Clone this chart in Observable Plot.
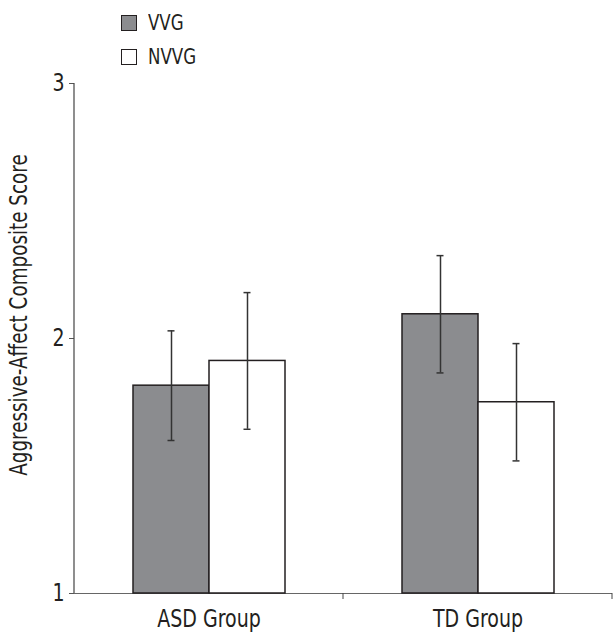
<!DOCTYPE html>
<html>
<head>
<meta charset="utf-8">
<script src="https://cdn.jsdelivr.net/npm/d3@7"></script>
<script src="https://cdn.jsdelivr.net/npm/@observablehq/plot@0.6"></script>
<style>
  html, body { margin: 0; padding: 0; background: #fff; }
  #wrap { position: relative; width: 613px; height: 633px; font-family: "Liberation Sans Narrow", "DejaVu Sans Condensed", "Liberation Sans", sans-serif; color: #231f20; }
  #legend { position: absolute; left: 121px; top: 6px; font-size: 21px; }
  .item { display: flex; align-items: center; height: 34px; }
  .sw { width: 14px; height: 14px; border: 1px solid #231f20; margin-right: 11px; box-sizing: content-box; flex: none; }
  .lab { display: inline-block; transform: scaleX(0.88); transform-origin: left center; }
  svg { display: block; }
</style>
</head>
<body>
<div id="wrap">
  <div id="chart"></div>
  <div id="legend"></div>
</div>
<script>
// Data
const groups = ["ASD Group", "TD Group"];
const conditions = ["VVG", "NVVG"];
const vvgMeans = [1.815, 2.095];
const nvvgMeans = [1.912, 1.75];
const vvgErrors = [0.215, 0.23];
const nvvgErrors = [0.268, 0.23];
const yTicks = [1, 2, 3];
const yLabel = "Aggressive-Affect Composite Score";
const colors = ["#8b8c8f", "#ffffff"];

const data = [];
groups.forEach((g, i) => {
  data.push({group: g, cond: "VVG", mean: vvgMeans[i], err: vvgErrors[i]});
  data.push({group: g, cond: "NVVG", mean: nvvgMeans[i], err: nvvgErrors[i]});
});

const ink = "#231f20";
const font = '"Liberation Sans Narrow", "DejaVu Sans Condensed", "Liberation Sans", sans-serif';

const plot = Plot.plot({
  width: 613,
  height: 633,
  marginTop: 83,
  marginBottom: 40,
  marginLeft: 73,
  marginRight: 1,
  style: {fontFamily: font, color: ink, background: "#fff"},
  y: {domain: [1, 3]},
  fx: {domain: groups, padding: 0, label: null},
  x: {domain: conditions, paddingInner: 0, paddingOuter: 0.753, axis: null},
  color: {domain: conditions, range: colors},
  marks: [
    Plot.axisY({ticks: yTicks, tickFormat: "d", tickSize: 5, tickPadding: 5, fontSize: 24, stroke: "#555", label: null}),
    Plot.axisFx({anchor: "bottom", tickSize: 0, tickPadding: 16, fontSize: 24, label: null}),
    Plot.ruleY([1], {stroke: "#666", strokeWidth: 1}),
    Plot.barY(data, {fx: "group", x: "cond", y1: 1, y2: "mean", fill: "cond", stroke: ink, strokeWidth: 1.5}),
    Plot.ruleX(data, {fx: "group", x: "cond", y1: d => d.mean - d.err, y2: d => d.mean + d.err, stroke: "#333", strokeWidth: 1.5}),
    Plot.tickY(data, {fx: "group", x: "cond", y: d => d.mean - d.err, stroke: "#333", strokeWidth: 1.5, insetLeft: 34.5, insetRight: 34.5}),
    Plot.tickY(data, {fx: "group", x: "cond", y: d => d.mean + d.err, stroke: "#333", strokeWidth: 1.5, insetLeft: 34.5, insetRight: 34.5})
  ]
});

document.getElementById("chart").appendChild(plot);

// Axis line on the left and boundary ticks on the x axis, positioned from the plot's scales
const ys = plot.scale("y");
const fxs = plot.scale("fx");
const svg = d3.select(plot);
const y1 = ys.apply(yTicks[0]), y3 = ys.apply(yTicks[yTicks.length - 1]);
const x0 = fxs.apply(groups[0]);
svg.append("line").attr("x1", x0).attr("x2", x0).attr("y1", y1).attr("y2", y3)
  .attr("stroke", "#444").attr("stroke-width", 1.2);
groups.forEach(g => {
  const xe = fxs.apply(g) + fxs.bandwidth;
  svg.append("line").attr("x1", xe).attr("x2", xe).attr("y1", y1).attr("y2", y1 + 6)
    .attr("stroke", "#444").attr("stroke-width", 1);
});

// Condense the axis text to mimic the narrow typeface
svg.selectAll("text").each(function () {
  const w = this.getComputedTextLength();
  if (w > 0) {
    this.setAttribute("textLength", w * 0.88);
    this.setAttribute("lengthAdjust", "spacingAndGlyphs");
  }
});

// y-axis title
const yt = svg.append("text")
  .attr("transform", `translate(27,${ys.apply(2.09)}) rotate(-90)`)
  .attr("text-anchor", "middle")
  .attr("font-size", 24)
  .attr("fill", ink)
  .text(yLabel);
const yw = yt.node().getComputedTextLength();
yt.attr("textLength", yw * 0.85).attr("lengthAdjust", "spacingAndGlyphs");

// Legend
const legend = d3.select("#legend");
conditions.forEach((c, i) => {
  const item = legend.append("div").attr("class", "item");
  item.append("div").attr("class", "sw").style("background", colors[i]);
  item.append("span").attr("class", "lab").text(c);
});
</script>
</body>
</html>
